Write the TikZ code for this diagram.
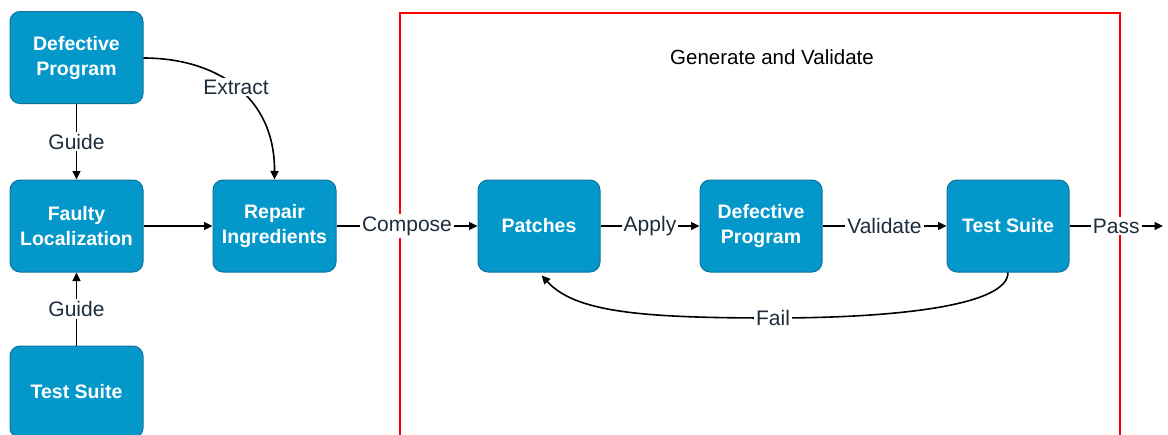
\documentclass[tikz,border=0pt]{standalone}
\usepackage{fontspec}
\setmainfont{Liberation Sans}
\usetikzlibrary{arrows.meta}
\definecolor{boxfill}{RGB}{4,152,202}
\definecolor{boxdraw}{RGB}{16,115,158}
\definecolor{lbltext}{RGB}{30,44,60}
\begin{document}
\begin{tikzpicture}[x=1pt,y=-1pt,
 blk/.style={draw=boxdraw,fill=boxfill,line width=1pt,rounded corners=10pt,text=white,
   font=\fontsize{19.5}{25}\selectfont\bfseries,align=center,minimum height=92pt,inner sep=0pt},
 lbl/.style={fill=white,text=lbltext,font=\fontsize{21}{25}\selectfont,inner sep=2pt},
 edge/.style={line width=1.6pt,-{Triangle[length=8.5pt,width=8pt]}},
 plainedge/.style={line width=1.6pt}]
\useasboundingbox (0,0) rectangle (1168,434);
\clip (0,0) rectangle (1168,434);
% group frame
\draw[red,line width=2pt] (400,13) rectangle (1120,460);
\node[font=\fontsize{20.5}{24}\selectfont,text=black] (title) at (772,57) {Generate and Validate};
% nodes
\node[blk,minimum width=133pt] (dp1) at (76.5,57.5) {Defective\\Program};
\node[blk,minimum width=133pt] (fl) at (76.5,226) {Faulty\\Localization};
\node[blk,minimum width=133pt] (ts1) at (76.5,392) {Test Suite};
\node[blk,minimum width=123pt] (ri) at (274.5,226) {Repair\\Ingredients};
\node[blk,minimum width=122pt] (pa) at (539,226) {Patches};
\node[blk,minimum width=122pt] (dp2) at (761,226) {Defective\\Program};
\node[blk,minimum width=122pt] (ts2) at (1008,226) {Test Suite};
\coordinate (out) at (1163,226);
% edges
\draw[edge] (dp1.south) -- node[lbl] {Guide} (fl.north);
\draw[edge] (ts1.north) -- node[lbl] {Guide} (fl.south);
\draw[edge] (fl.east) -- (ri.west);
\draw[edge] (dp1.east |- 0,58) .. controls (215,58) and (275,95) .. node[lbl] {Extract} (ri.north);
\draw[edge] (ri.east) -- node[lbl] {Compose} (pa.west);
\draw[edge] (pa.east) -- node[lbl] {Apply} (dp2.west);
\draw[edge] (dp2.east) -- node[lbl] {Validate} (ts2.west);
\draw[edge] (ts2.east) -- node[lbl] {Pass} (out);
\draw[edge,shorten >=4pt] (ts2.south) .. controls (1008,305) and (900,318) .. (773,318)
  node[lbl] (fail) {Fail}
  .. controls (640,318) and (575,312) .. (pa.south);
\end{tikzpicture}
\end{document}
